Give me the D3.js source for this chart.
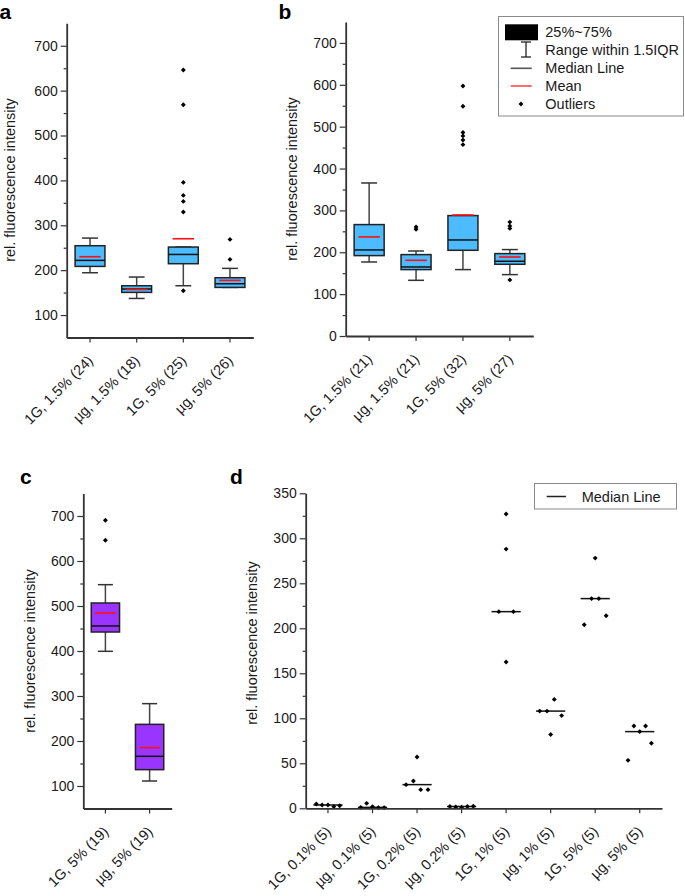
<!DOCTYPE html>
<html><head><meta charset="utf-8">
<script src="https://cdn.jsdelivr.net/npm/d3@7"></script>
<style>body{margin:0;background:#fff} svg{display:block;font-family:Arial,"Liberation Sans",sans-serif}</style>
</head><body><svg id="chart" width="685" height="896"></svg>
<script>
// ---------- DATA ----------
// Panel a
const catsA = ["1G, 1.5% (24)", "µg, 1.5% (18)", "1G, 5% (25)", "µg, 5% (26)"];
const q1A   = [208.4, 150.5, 214.4, 161.6];
const medA  = [221.8, 158.0, 235.0, 169.8];
const q3A   = [254.5, 165.3, 251.5, 183.2];
const meanA = [230.0, 157.0, 270.0, 177.2];
const loA   = [194.3, 137.0, 165.3, 161.6];
const hiA   = [271.5, 184.7, 251.5, 204.0];
const outA  = [[], [], [645.8, 568.6, 395.5, 366.6, 353.2, 329.5, 154.2], [268.6, 224.0]];
const ticksA = [100, 200, 300, 400, 500, 600, 700];

// Panel b
const catsB = ["1G, 1.5% (21)", "µg, 1.5% (21)", "1G, 5% (32)", "µg, 5% (27)"];
const q1B   = [192.0, 158.6, 204.7, 171.3];
const medB  = [205.5, 164.9, 229.4, 178.5];
const q3B   = [266.1, 194.4, 287.6, 196.8];
const meanB = [236.6, 180.8, 289.0, 188.7];
const loB   = [176.8, 133.0, 158.6, 146.6];
const hiB   = [365.5, 203.0, 287.6, 206.4];
const outB  = [[], [260.4, 255.0], [597.3, 548.7, 486.0, 478.0, 468.0, 457.0], [272.0, 263.0, 257.0, 134.0]];
const ticksB = [0, 100, 200, 300, 400, 500, 600, 700];

// Panel c
const catsC = ["1G, 5% (19)", "µg, 5% (19)"];
const q1C   = [442.2, 136.3];
const medC  = [455.6, 166.0];
const q3C   = [506.7, 237.0];
const meanC = [484.4, 185.2];
const loC   = [399.3, 111.1];
const hiC   = [547.4, 283.0];
const outC  = [[690.4, 646.0], []];
const ticksC = [100, 200, 300, 400, 500, 600, 700];

// Panel d
const catsD = ["1G, 0.1% (5)", "µg, 0.1% (5)", "1G, 0.2% (5)", "µg, 0.2% (5)",
               "1G, 1% (5)", "µg, 1% (5)", "1G, 5% (5)", "µg, 5% (5)"];
const valsD = [
  [4.8, 3.7, 3.7, 1.9, 2.9],
  [1.0, 5.5, 1.9, 0.8, 0.8],
  [26.3, 30.4, 20.7, 20.7, 57.0],
  [2.0, 1.5, 1.2, 2.0, 2.2],
  [327.0, 288.0, 218.5, 218.5, 162.6],
  [108.0, 108.0, 121.0, 103.0, 82.0],
  [204.0, 233.0, 233.0, 214.0, 278.0],
  [53.3, 91.5, 85.2, 91.5, 72.2]
];
const ticksD = [0, 50, 100, 150, 200, 250, 300, 350];

const legendLabels = ["25%~75%", "Range within 1.5IQR", "Median Line", "Mean", "Outliers"];

// ---------- DRAW ----------
const svg = d3.select("#chart");
const FONT = 14.5;
const TICKFONT = 14;
const AXIS = "#333";
const TXT = "#1a1a1a";
const ptSym = d3.symbol().type(d3.symbolSquare).size(12);

function yAxis(g, y, majors, step) {
  const minors = majors.slice(0, -1).map(v => v + step / 2);
  const gm = g.append("g").call(d3.axisLeft(y).tickValues(minors).tickSize(3).tickSizeOuter(0).tickFormat(""));
  gm.select(".domain").remove();
  gm.selectAll("line").attr("stroke", AXIS).attr("stroke-width", 1.2);
  const ga = g.append("g").call(d3.axisLeft(y).tickValues(majors).tickSize(6).tickPadding(3).tickSizeOuter(0));
  ga.select(".domain").attr("stroke", AXIS).attr("stroke-width", 1.8);
  ga.selectAll("line").attr("stroke", AXIS).attr("stroke-width", 1.2);
  ga.selectAll("text").attr("font-size", TICKFONT).attr("fill", TXT).attr("font-family", "Arial, 'Liberation Sans', sans-serif");
}

function xAxis(g, x, yPix, cats) {
  const ga = g.append("g").attr("transform", `translate(0,${yPix})`)
    .call(d3.axisBottom(x).tickSize(5).tickSizeOuter(0).tickFormat(""));
  ga.select(".domain").attr("stroke", AXIS).attr("stroke-width", 1.8);
  ga.selectAll("line").attr("stroke", AXIS).attr("stroke-width", 1.2);
  g.append("g").selectAll("text").data(cats).join("text")
    .attr("transform", d => `translate(${x(d) + x.bandwidth() / 2 + 4},${yPix + 24}) rotate(-45)`)
    .attr("text-anchor", "end")
    .attr("font-size", FONT).attr("fill", TXT)
    .text(d => d);
}

function yTitle(cx, cy) {
  svg.append("text").attr("transform", `translate(${cx},${cy}) rotate(-90)`)
    .attr("text-anchor", "middle").attr("dy", "0.35em")
    .attr("font-size", FONT).attr("fill", TXT)
    .text("rel. fluorescence intensity");
}

function panelLabel(t, x, y) {
  svg.append("text").attr("x", x).attr("y", y).attr("font-size", 21)
    .attr("font-weight", "bold").attr("fill", "#000").text(t);
}

function boxPanel(cfg) {
  const x = d3.scaleBand().domain(cfg.cats).range(cfg.xr).padding(0);
  const y = d3.scaleLinear().domain(cfg.dom).range(cfg.yr);
  const g = svg.append("g");
  const bw = x.bandwidth();
  const boxW = bw * 0.64, capW = bw * 0.34, meanW = bw * 0.46;
  cfg.cats.forEach((c, i) => {
    const cx = x(c) + bw / 2;
    g.append("line").attr("x1", cx).attr("x2", cx).attr("y1", y(cfg.lo[i])).attr("y2", y(cfg.q1[i]))
      .attr("stroke", "#444").attr("stroke-width", 1.5);
    g.append("line").attr("x1", cx).attr("x2", cx).attr("y1", y(cfg.hi[i])).attr("y2", y(cfg.q3[i]))
      .attr("stroke", "#444").attr("stroke-width", 1.5);
    [cfg.lo[i], cfg.hi[i]].forEach(v => {
      g.append("line").attr("x1", cx - capW / 2).attr("x2", cx + capW / 2).attr("y1", y(v)).attr("y2", y(v))
        .attr("stroke", "#333").attr("stroke-width", 1.5);
    });
    g.append("rect").attr("x", cx - boxW / 2).attr("width", boxW)
      .attr("y", y(cfg.q3[i])).attr("height", y(cfg.q1[i]) - y(cfg.q3[i]))
      .attr("fill", cfg.fill).attr("stroke", "#222").attr("stroke-width", 1.5);
    g.append("line").attr("x1", cx - boxW / 2).attr("x2", cx + boxW / 2)
      .attr("y1", y(cfg.med[i])).attr("y2", y(cfg.med[i])).attr("stroke", "#111").attr("stroke-width", 1.5);
    g.append("line").attr("x1", cx - meanW / 2).attr("x2", cx + meanW / 2)
      .attr("y1", y(cfg.mean[i])).attr("y2", y(cfg.mean[i])).attr("stroke", "#ff1010").attr("stroke-width", 1.6);
    g.selectAll(null).data(cfg.out[i]).join("path")
      .attr("d", ptSym)
      .attr("transform", v => `translate(${cx},${y(v)}) rotate(45)`)
      .attr("fill", "#000");
  });
  const ga = svg.append("g").attr("transform", `translate(${cfg.xr[0]},0)`);
  yAxis(ga, y, cfg.ticks, cfg.ticks[1] - cfg.ticks[0]);
  xAxis(svg.append("g"), x, cfg.yr[0], cfg.cats);
}

// Panel a
boxPanel({cats: catsA, q1: q1A, med: medA, q3: q3A, mean: meanA, lo: loA, hi: hiA, out: outA,
  ticks: ticksA, dom: [50, 750], xr: [66.7, 253.3], yr: [337.5, 23.3], fill: "#4DBBFF"});
yTitle(10, 180);
panelLabel("a", -0.5, 19);

// Panel b
boxPanel({cats: catsB, q1: q1B, med: medB, q3: q3B, mean: meanB, lo: loB, hi: hiB, out: outB,
  ticks: ticksB, dom: [0, 750], xr: [345.7, 533.3], yr: [336, 22], fill: "#4DBBFF"});
yTitle(292, 179);
panelLabel("b", 278.5, 19);

// Panel c
boxPanel({cats: catsC, q1: q1C, med: medC, q3: q3C, mean: meanC, lo: loC, hi: hiC, out: outC,
  ticks: ticksC, dom: [50, 750], xr: [83.3, 171.7], yr: [808.5, 493.5], fill: "#9A35FF"});
yTitle(30, 651);
panelLabel("c", 20, 484);

// Legend for b
(function () {
  const g = svg.append("g");
  g.append("rect").attr("x", 498.5).attr("y", 16.5).attr("width", 185).attr("height", 99.5)
    .attr("fill", "#fff").attr("stroke", "#8a8a8a").attr("stroke-width", 1);
  const rows = [32.3, 50, 68.3, 86, 104];
  g.append("rect").attr("x", 505).attr("y", rows[0] - 8).attr("width", 33).attr("height", 16).attr("fill", "#000");
  g.append("line").attr("x1", 526).attr("x2", 526).attr("y1", rows[1] - 8).attr("y2", rows[1] + 7).attr("stroke", "#222").attr("stroke-width", 1.3);
  [rows[1] - 8, rows[1] + 7].forEach(v => g.append("line").attr("x1", 521).attr("x2", 531).attr("y1", v).attr("y2", v).attr("stroke", "#222").attr("stroke-width", 1.3));
  g.append("line").attr("x1", 510.7).attr("x2", 531.7).attr("y1", rows[2]).attr("y2", rows[2]).attr("stroke", "#555").attr("stroke-width", 1.6);
  g.append("line").attr("x1", 510.7).attr("x2", 531.7).attr("y1", rows[3]).attr("y2", rows[3]).attr("stroke", "#ff2020").attr("stroke-width", 1.3);
  g.append("path").attr("d", ptSym).attr("transform", `translate(521,${rows[4]}) rotate(45)`).attr("fill", "#000");
  g.selectAll("text.lg").data(legendLabels).join("text")
    .attr("x", 545.3).attr("y", (d, i) => rows[i]).attr("dy", "0.35em")
    .attr("font-size", FONT).attr("fill", TXT).text(d => d);
})();

// Panel d
(function () {
  const x = d3.scaleBand().domain(catsD).range([305.7, 662]).padding(0);
  const y = d3.scaleLinear().domain([0, 350]).range([808.3, 493.3]);
  const bw = x.bandwidth();
  const W = bw * 0.656;
  const g = svg.append("g");
  catsD.forEach((c, i) => {
    const cx = x(c) + bw / 2;
    const vals = valsD[i];
    const med = d3.median(vals);
    g.append("line").attr("x1", cx - W / 2).attr("x2", cx + W / 2).attr("y1", y(med)).attr("y2", y(med))
      .attr("stroke", "#111").attr("stroke-width", 1.5);
    const bins = d3.group(vals.map((v, k) => ({v, k})), d => Math.floor(d.v / 50));
    bins.forEach(arr => {
      const n = arr.length;
      arr.forEach((d, j) => {
        const off = W * (j - (n - 1) / 2) / n;
        g.append("path").attr("d", ptSym)
          .attr("transform", `translate(${cx + off},${y(d.v)}) rotate(45)`)
          .attr("fill", "#000");
      });
    });
  });
  const ga = svg.append("g").attr("transform", "translate(305.7,0)");
  yAxis(ga, y, ticksD, 50);
  xAxis(svg.append("g"), x, 808.3, catsD);
  const lg = svg.append("g");
  lg.append("rect").attr("x", 534.5).attr("y", 483.5).attr("width", 142).attr("height", 25.5)
    .attr("fill", "#fff").attr("stroke", "#8a8a8a").attr("stroke-width", 1);
  lg.append("line").attr("x1", 546.7).attr("x2", 566).attr("y1", 496.5).attr("y2", 496.5).attr("stroke", "#222").attr("stroke-width", 1.5);
  lg.append("text").attr("x", 581.7).attr("y", 496.5).attr("dy", "0.35em").attr("font-size", FONT).attr("fill", TXT).text("Median Line");
})();
yTitle(252, 643);
panelLabel("d", 230, 484);
</script>
</body></html>
